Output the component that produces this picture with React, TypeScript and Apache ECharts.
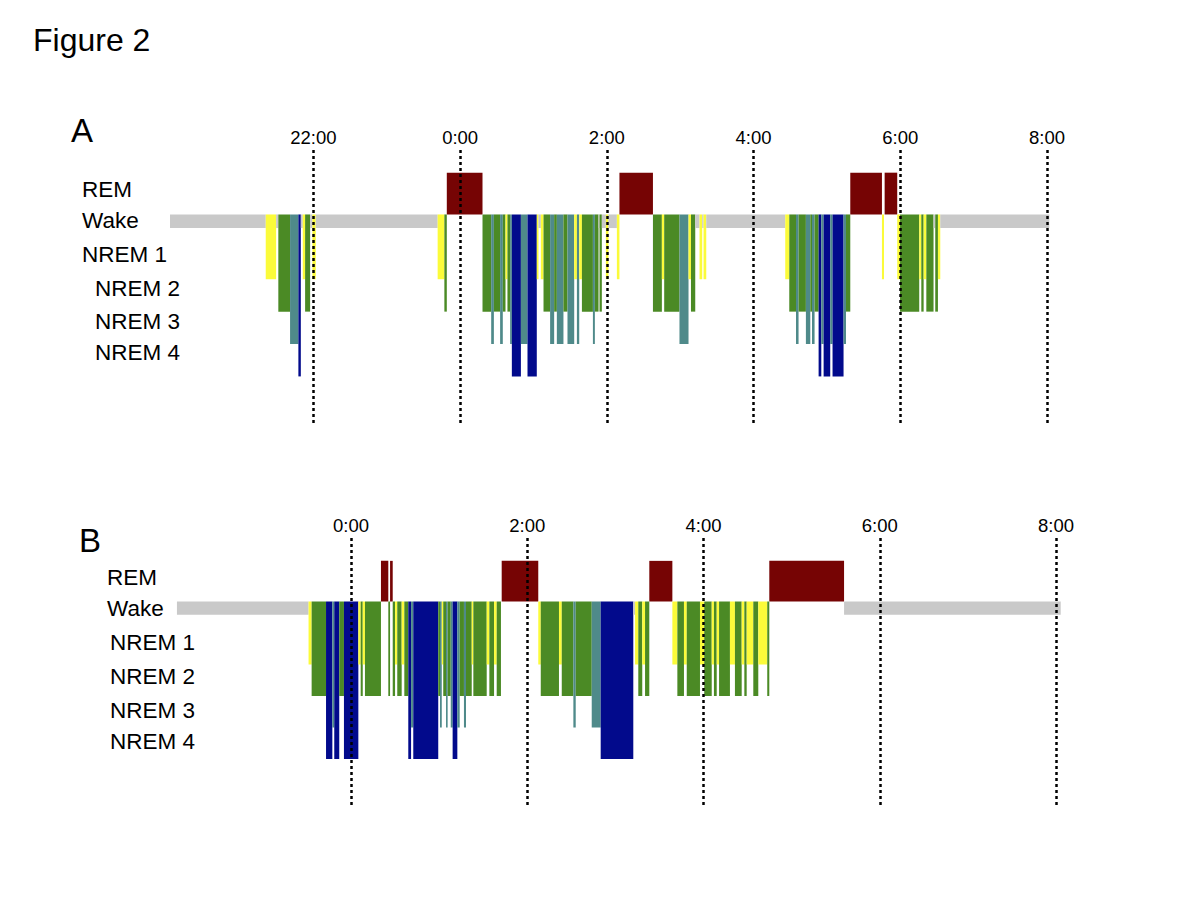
import React, { useEffect, useRef } from "react";
import * as echarts from "echarts";

// Stage runs: [start minute (relative to 0:00), end minute, stage]
const hypnogramA: [number, number, string][] = [
  [-237.3, -159.0, "W"], [-159.0, -150.5, "N1"], [-150.5, -148.7, "W"], [-148.7, -139.1, "N2"],
  [-139.1, -132.3, "N3"], [-132.3, -130.3, "N4"], [-130.3, -128.7, "W"], [-128.7, -126.8, "N1"],
  [-126.8, -122.7, "N2"], [-122.7, -120.8, "W"], [-120.8, -118.1, "N1"], [-118.1, -18.4, "W"],
  [-18.4, -12.9, "N1"], [-12.9, -10.9, "N2"], [-10.9, 18.3, "R"], [18.3, 25.4, "N2"],
  [25.4, 27.6, "N3"], [27.6, 32.7, "N2"], [32.7, 34.9, "N3"], [34.9, 37.1, "N2"],
  [37.1, 38.7, "N1"], [38.7, 40.9, "N2"], [40.9, 42.3, "N3"], [42.3, 49.7, "N4"],
  [49.7, 55.1, "N3"], [55.1, 62.7, "N4"], [62.7, 64.1, "N1"], [64.1, 66.0, "W"],
  [66.0, 68.2, "N1"], [68.2, 73.6, "N2"], [73.6, 76.9, "N3"], [76.9, 79.1, "N2"],
  [79.1, 84.5, "N3"], [84.5, 87.8, "N2"], [87.8, 93.3, "N3"], [93.3, 95.5, "N1"],
  [95.5, 97.4, "N3"], [97.4, 99.6, "N1"], [99.6, 108.6, "N2"], [108.6, 110.2, "N3"],
  [110.2, 113.2, "N2"], [113.2, 114.0, "W"], [114.0, 115.9, "N2"], [115.9, 119.2, "W"],
  [119.2, 121.3, "N1"], [121.3, 128.2, "W"], [128.2, 130.3, "N1"], [130.3, 157.7, "R"],
  [157.7, 165.0, "N2"], [165.0, 166.9, "N1"], [166.9, 179.4, "N2"], [179.4, 186.8, "N3"],
  [186.8, 188.8, "N1"], [188.8, 192.3, "N2"], [192.3, 195.8, "W"], [195.8, 198.0, "N1"],
  [198.0, 199.1, "W"], [199.1, 201.3, "N1"], [201.3, 265.9, "W"], [265.9, 269.2, "N1"],
  [269.2, 274.7, "N2"], [274.7, 276.8, "N3"], [276.8, 282.8, "N2"], [282.8, 286.4, "N3"],
  [286.4, 287.8, "N2"], [287.8, 289.9, "N3"], [289.9, 293.2, "N2"], [293.2, 295.4, "N4"],
  [295.4, 297.3, "N3"], [297.3, 302.7, "N4"], [302.7, 304.6, "N3"], [304.6, 313.6, "N4"],
  [313.6, 315.6, "N3"], [315.6, 319.1, "N2"], [319.1, 345.0, "R"], [345.0, 346.7, "N1"],
  [347.2, 357.5, "R"], [357.5, 359.8, "N1"], [359.8, 375.5, "N2"], [375.5, 377.2, "N1"],
  [377.2, 379.1, "N2"], [379.1, 381.3, "N1"], [381.3, 387.2, "N2"], [387.2, 388.6, "W"],
  [388.6, 390.8, "N2"], [390.8, 392.7, "N1"], [392.7, 481.9, "W"],
];

const hypnogramB: [number, number, string][] = [
  [-118.5, -28.9, "W"], [-28.9, -26.8, "N1"], [-26.8, -17.0, "N2"], [-17.0, -12.7, "N4"],
  [-12.7, -11.4, "N3"], [-11.4, -8.0, "N4"], [-8.0, -4.8, "N2"], [-4.8, 5.0, "N4"],
  [5.0, 6.6, "N1"], [6.6, 8.0, "N2"], [8.0, 9.5, "N1"], [9.5, 20.4, "N2"],
  [20.4, 25.4, "R"], [25.4, 26.6, "N2"], [26.6, 28.4, "R"], [28.4, 30.0, "N2"],
  [30.0, 31.5, "N1"], [31.5, 34.5, "N2"], [34.5, 36.3, "N1"], [36.3, 39.0, "N2"],
  [39.0, 40.9, "N4"], [40.9, 42.4, "N3"], [42.4, 59.4, "N4"], [59.4, 60.6, "N2"],
  [60.6, 61.8, "N3"], [61.8, 62.8, "N1"], [62.8, 64.7, "N2"], [64.7, 65.8, "N3"],
  [65.8, 67.9, "N2"], [67.9, 69.2, "N3"], [69.2, 72.4, "N4"], [72.4, 74.0, "N3"],
  [74.0, 76.9, "N2"], [76.9, 78.3, "N3"], [78.3, 82.2, "N2"], [82.2, 83.3, "N1"],
  [83.3, 92.4, "N2"], [92.4, 94.2, "N1"], [94.2, 97.4, "N2"], [97.4, 99.2, "N1"],
  [99.2, 102.1, "N2"], [102.6, 127.5, "R"], [127.5, 129.2, "N1"], [129.2, 141.6, "N2"],
  [141.6, 143.5, "N1"], [143.5, 151.4, "N2"], [151.4, 153.0, "N3"], [153.0, 163.9, "N2"],
  [163.9, 170.0, "N3"], [170.0, 192.2, "N4"], [192.2, 193.4, "W"], [193.4, 195.6, "N1"],
  [195.6, 198.3, "N2"], [198.3, 200.2, "N1"], [200.2, 203.1, "N2"], [203.1, 218.8, "R"],
  [218.8, 222.2, "N1"], [222.2, 226.7, "N2"], [226.7, 228.6, "N1"], [228.6, 237.6, "N2"],
  [237.6, 240.5, "N1"], [240.5, 245.6, "N2"], [245.6, 247.1, "N1"], [247.1, 249.0, "N2"],
  [249.0, 250.6, "N1"], [250.6, 258.0, "N2"], [258.0, 261.4, "N1"], [261.4, 266.0, "N2"],
  [266.0, 267.8, "N1"], [267.8, 269.4, "N2"], [269.4, 273.9, "N1"], [273.9, 277.3, "N2"],
  [277.3, 283.4, "N1"], [283.4, 284.8, "N2"], [284.8, 335.7, "R"], [335.7, 483.2, "W"],
];

// Dotted hour markers (minutes relative to 0:00)
const hourLinesA = [-120, 0, 120, 240, 360, 480];
const hourLinesB = [0, 120, 240, 360, 480];

const stageNames = ["REM", "Wake", "NREM 1", "NREM 2", "NREM 3", "NREM 4"];
const stageCodes = ["R", "W", "N1", "N2", "N3", "N4"];
// y extent of each stage's bar on the depth axis (0 = top of wake band)
const stageTop = [-1.29, 0, 0, 0, 0, 0];
const stageBottom = [0, 0.42, 2, 3, 4, 5];
const stageColors = ["#760404", "#c9c9c9", "#fbfb3a", "#4b8a25", "#4f8a8a", "#020a8c"];

const FONT = "'Liberation Sans', Arial, Helvetica, sans-serif";

function fmtHour(v: number) {
  const h = (((v / 60) % 24) + 24) % 24;
  return `${h}:00`;
}

function makeSeries(data: [number, number, string][], idx: number, lines: number[]) {
  return {
    type: "custom",
    xAxisIndex: idx,
    yAxisIndex: idx,
    silent: true,
    data: data.map((d) => [d[0], d[1], stageCodes.indexOf(d[2])]),
    encode: { x: [0, 1], y: 2 },
    clip: false,
    renderItem: (params: any, api: any) => {
      const s = api.value(0);
      const e = api.value(1);
      const k = api.value(2);
      const p1 = api.coord([s, stageTop[k]]);
      const p2 = api.coord([e, stageBottom[k]]);
      return {
        type: "rect",
        shape: {
          x: p1[0],
          y: Math.min(p1[1], p2[1]),
          width: Math.max(p2[0] - p1[0], 0.8),
          height: Math.abs(p2[1] - p1[1]),
        },
        style: { fill: stageColors[k] },
      };
    },
    markLine: {
      silent: true,
      symbol: ["none", "none"],
      label: { show: false },
      lineStyle: { color: "#000", width: 2.5, type: [3, 3], opacity: 1 },
      data: lines.map((v) => ({ xAxis: v })),
    },
  };
}

function xAxisCfg(idx: number, min: number, max: number) {
  return {
    type: "value",
    gridIndex: idx,
    position: "top",
    min,
    max,
    interval: 120,
    axisLine: { show: false },
    axisTick: { show: false },
    splitLine: { show: false },
    axisLabel: {
      show: true,
      showMinLabel: true,
      showMaxLabel: true,
      margin: 3,
      color: "#000",
      fontSize: 18.5,
      fontFamily: FONT,
      formatter: (v: number) => (v === min ? "" : fmtHour(v)),
    },
  };
}

function labelTexts(xs: number[], ys: number[], size: number) {
  return stageNames.map((t, i) => ({
    type: "text",
    x: xs[i],
    y: ys[i],
    style: { text: t, fontSize: size, fontFamily: FONT, fill: "#000", verticalAlign: "middle" },
  }));
}

export default function App() {
  const ref = useRef<HTMLDivElement>(null);
  useEffect(() => {
    document.body.style.margin = "0";
    if (!ref.current) return;
    const chart = echarts.init(ref.current, undefined, { renderer: "svg" });
    chart.setOption({
      animation: false,
      backgroundColor: "#fff",
      grid: [
        { left: 166.7, right: 153, top: 150, height: 275 },
        { left: 174.75, right: 144, top: 538, height: 267 },
      ],
      xAxis: [xAxisCfg(0, -240, 480), xAxisCfg(1, -120, 480)],
      yAxis: [
        { type: "value", gridIndex: 0, min: -1.99, max: 6.5, inverse: true, show: false },
        { type: "value", gridIndex: 1, min: -2.016, max: 6.46, inverse: true, show: false },
      ],
      series: [makeSeries(hypnogramA, 0, hourLinesA), makeSeries(hypnogramB, 1, hourLinesB)],
      graphic: [
        { type: "text", x: 33, y: 40, style: { text: "Figure 2", fontSize: 32, fontFamily: FONT, fill: "#000", verticalAlign: "middle" } },
        { type: "text", x: 71, y: 130, style: { text: "A", fontSize: 33, fontFamily: FONT, fill: "#000", verticalAlign: "middle" } },
        { type: "text", x: 79, y: 540, style: { text: "B", fontSize: 33, fontFamily: FONT, fill: "#000", verticalAlign: "middle" } },
        ...labelTexts([82, 82, 82, 95, 95, 95], [189, 220, 254, 288, 321, 352], 22.5),
        ...labelTexts([107, 107, 110, 110, 110, 110], [577, 608, 642, 676, 710, 741], 22.5),
      ],
    });
    return () => chart.dispose();
  }, []);
  return <div ref={ref} style={{ width: 1200, height: 900 }} />;
}
